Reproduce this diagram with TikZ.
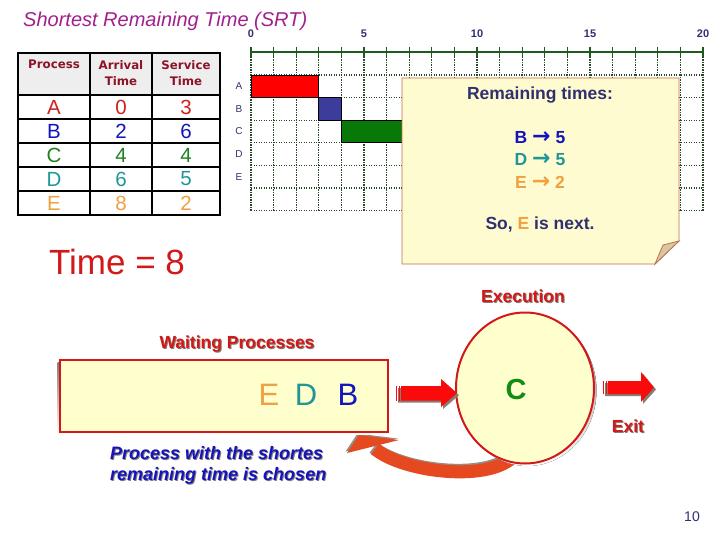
\documentclass[tikz,border=0pt]{standalone}
\usepackage{fontspec}
\setmainfont{Liberation Sans}
\newfontfamily\dvsans{DejaVu Sans}
\usetikzlibrary{calc,shapes.geometric}
\definecolor{ttl}{RGB}{160,32,140}
\definecolor{hdr}{RGB}{140,20,40}
\definecolor{cA}{RGB}{208,32,32}
\definecolor{cB}{RGB}{20,20,190}
\definecolor{cC}{RGB}{32,128,32}
\definecolor{cD}{RGB}{32,150,150}
\definecolor{cE}{RGB}{240,160,64}
\definecolor{navy}{RGB}{48,48,112}
\definecolor{gridc}{RGB}{40,70,40}
\definecolor{axisc}{RGB}{30,90,30}
\definecolor{pad}{RGB}{255,251,208}
\definecolor{padedge}{RGB}{190,110,80}
\definecolor{foldc}{RGB}{216,200,160}
\definecolor{cream}{RGB}{255,255,206}
\definecolor{redx}{RGB}{210,24,24}
\definecolor{arrowred}{RGB}{250,10,10}
\definecolor{curvec}{RGB}{230,72,32}
\definecolor{shade}{RGB}{135,125,115}
\definecolor{lshade}{RGB}{150,140,130}
\definecolor{hdrfill}{RGB}{238,238,238}
\definecolor{barB}{RGB}{60,60,156}
\definecolor{barC}{RGB}{8,120,8}
\definecolor{cgreen}{RGB}{20,140,20}
\newcommand{\fsz}[1]{\fontsize{#1}{#1}\selectfont}
\newcommand{\shtext}[2]{\rlap{\kern1pt\raisebox{-1pt}{\color{shade}#2}}{\color{#1}#2}}
\newcommand{\rarr}{{\dvsans\bfseries\fontsize{22}{22}\selectfont →}}
\tikzset{
  gridln/.style={draw=gridc, line width=1.1pt, dash pattern=on 1.2pt off 1.3pt},
  tbl/.style={draw=black, line width=1.8pt},
  hdrtxt/.style={font=\dvsans\bfseries\fontsize{11.8}{16}\selectfont, text=hdr, align=center, anchor=north, inner sep=0pt},
  celltxt/.style={font=\fsz{20.5}, inner sep=0pt},
  rowlbl/.style={font=\fsz{10}, text=navy, inner sep=0pt},
  axnum/.style={font=\bfseries\fsz{11}, text=navy, inner sep=0pt},
  notetxt/.style={font=\bfseries\fsz{17.5}, inner sep=0pt},
  blockarrow/.style={fill=arrowred},
  shadowfill/.style={fill=shade},
}
\begin{document}
\begin{tikzpicture}[x=1pt,y=-1pt]
\useasboundingbox (0,0) rectangle (720,540);
\fill[white] (0,0) rectangle (720,540);

% title
\node[anchor=west, inner sep=0pt, font=\itshape\fsz{20}, text=ttl] (title) at (23,21) {Shortest Remaining Time (SRT)};

% table
\fill[hdrfill] (18,53) rectangle (220,95);
\draw[tbl] (18,53) rectangle (220,215);
\foreach \yy in {95,119,143,167,191} \draw[tbl] (18,\yy) -- (220,\yy);
\draw[tbl] (90,53) -- (90,215);
\draw[tbl] (152,53) -- (152,215);
\node[hdrtxt] (h1) at (54,60) {Process};
\node[hdrtxt] (h2) at (121,60) {Arrival\\Time};
\node[hdrtxt] (h3) at (186,60) {Service\\Time};
\foreach \n/\a/\s/\c [count=\k from 0] in {A/0/3/cA, B/2/6/cB, C/4/4/cC, D/6/5/cD, E/8/2/cE}{
  \node[celltxt, text=\c] (p\n) at (54,{107+24*\k}) {\n};
  \node[celltxt, text=\c] (a\n) at (121,{107+24*\k}) {\a};
  \node[celltxt, text=\c] (s\n) at (186,{107+24*\k}) {\s};
}

% gantt grid
\foreach \i in {0,...,20} \draw[gridln] ({251+22.6*\i},57) -- ({251+22.6*\i},211);
\foreach \j in {0,...,6} \draw[gridln] (251,{75+22.6*\j}) -- (703,{75+22.6*\j});
\draw[draw=axisc, line width=1.4pt] (251,52) -- (703,52);
\foreach \i in {0,...,20} \draw[draw=axisc, line width=1.3pt] ({251+22.6*\i},47) -- ({251+22.6*\i},57);
\foreach \n in {0,5,10,15,20} \node[axnum] (ax\n) at ({251+22.6*\n},34) {\n};
\foreach \n [count=\k from 0] in {A,B,C,D,E} \node[rowlbl] (g\n) at (239,{86.3+22.6*\k}) {\n};
\draw[fill=red, draw=black, line width=0.7pt] (251,75) rectangle (318.8,97.6);
\draw[fill=barB, draw=black, line width=0.7pt] (318.8,97.6) rectangle (341.4,120.2);
\draw[fill=barC, draw=black, line width=0.7pt] (341.4,120.2) rectangle (431.8,142.8);

% sticky note
\draw[fill=pad, draw=padedge, line width=0.8pt] (402,78) -- (679,78) -- (679,241) -- (655,264) -- (402,264) -- cycle;
\draw[fill=foldc, draw=padedge, line width=0.8pt] (679,241) -- (663,245) -- (655,264) -- cycle;
\node[notetxt, text=navy] (rem) at (540,95) {Remaining times:};
\node[notetxt, text=cB] (rB) at (540,138) {B \rarr\ 5};
\node[notetxt, text=cD] (rD) at (540,160) {D \rarr\ 5};
\node[notetxt, text=cE] (rE) at (540,182) {E \rarr\ 2};
\node[notetxt, text=navy] (next) at (540,225) {So, {\color{cE}E} is next.};

% time
\node[inner sep=0pt, font=\fsz{35}, text=redx] (time) at (117,262) {Time = 8};

% labels
\node[inner sep=0pt, font=\bfseries\fsz{17.5}] (exl) at (523,297) {\shtext{redx}{Execution}};
\node[inner sep=0pt, font=\bfseries\fsz{17.5}] (wpl) at (237,345) {\shtext{redx}{Waiting Processes}};
\node[inner sep=0pt, font=\bfseries\fsz{17.5}] (exitl) at (628,427) {\shtext{redx}{Exit}};
\node[anchor=north west, inner sep=0pt, align=left, font=\bfseries\itshape\fontsize{18}{21}\selectfont] (note2) at (110,446)
  {\shtext{cB}{Process with the shortes}\\ \shtext{cB}{remaining time is chosen}};

% curved arrow (behind circle)
\begin{scope}[shift={(-1.5,-1.5)}]
  \draw[lshade, line width=13pt] (512,458) .. controls (485,482) and (403,472) .. (375,449);
  \fill[lshade] (347,453) -- (359,435) -- (399,440) -- cycle;
\end{scope}
\draw[curvec, line width=13pt] (512,458) .. controls (485,482) and (403,472) .. (375,449);
\fill[curvec] (347,453) -- (359,435) -- (399,440) -- cycle;

% waiting box
\fill[shade] (57.5,362.5) rectangle (386,434.5);
\node[draw=redx, fill=cream, line width=2.5pt, minimum width=328pt, minimum height=72pt, inner sep=0pt] (wait) at (224,396) {};
\node[inner sep=0pt, font=\fsz{31}, text=cE] (wE) at (269,395) {E};
\node[inner sep=0pt, font=\fsz{31}, text=cD] (wD) at (306,395) {D};
\node[inner sep=0pt, font=\fsz{31}, text=cB] (wB) at (348,395) {B};

% CPU circle
\fill[shade] (527.5,390.5) ellipse [x radius=69pt, y radius=75.5pt];
\node[ellipse, draw=redx, fill=cream, line width=2pt, minimum width=138pt, minimum height=151pt, inner sep=0pt] (cpu) at (525,388) {};
\node[inner sep=0pt, font=\bfseries\fsz{29}, text=cgreen] (cC) at (516,390) {C};

% block arrow into CPU
\begin{scope}[shift={(2,2)}]
  \fill[shadowfill] (396,386) -- (441,386) -- (441,379) -- (457,393.2) -- (441,407) -- (441,400.5) -- (396,400.5) -- cycle;
\end{scope}
\fill[blockarrow] (401,386) -- (441,386) -- (441,379) -- (457,393.2) -- (441,407) -- (441,400.5) -- (401,400.5) -- cycle;
\fill[blockarrow] (396,386) rectangle (397.4,400.5);
\fill[blockarrow] (398.6,386) rectangle (400,400.5);

% exit arrow
\begin{scope}[shift={(2,2)}]
  \fill[shadowfill] (603,381) -- (641,381) -- (641,372) -- (654,387.5) -- (641,402) -- (641,394) -- (603,394) -- cycle;
\end{scope}
\fill[blockarrow] (608,381) -- (641,381) -- (641,372) -- (654,387.5) -- (641,402) -- (641,394) -- (608,394) -- cycle;
\fill[blockarrow] (603,381) rectangle (604.4,394);
\fill[blockarrow] (605.6,381) rectangle (607,394);

% page number
\node[inner sep=0pt, font=\fsz{14}, text=navy] (pg) at (692,517) {10};
\end{tikzpicture}
\end{document}
